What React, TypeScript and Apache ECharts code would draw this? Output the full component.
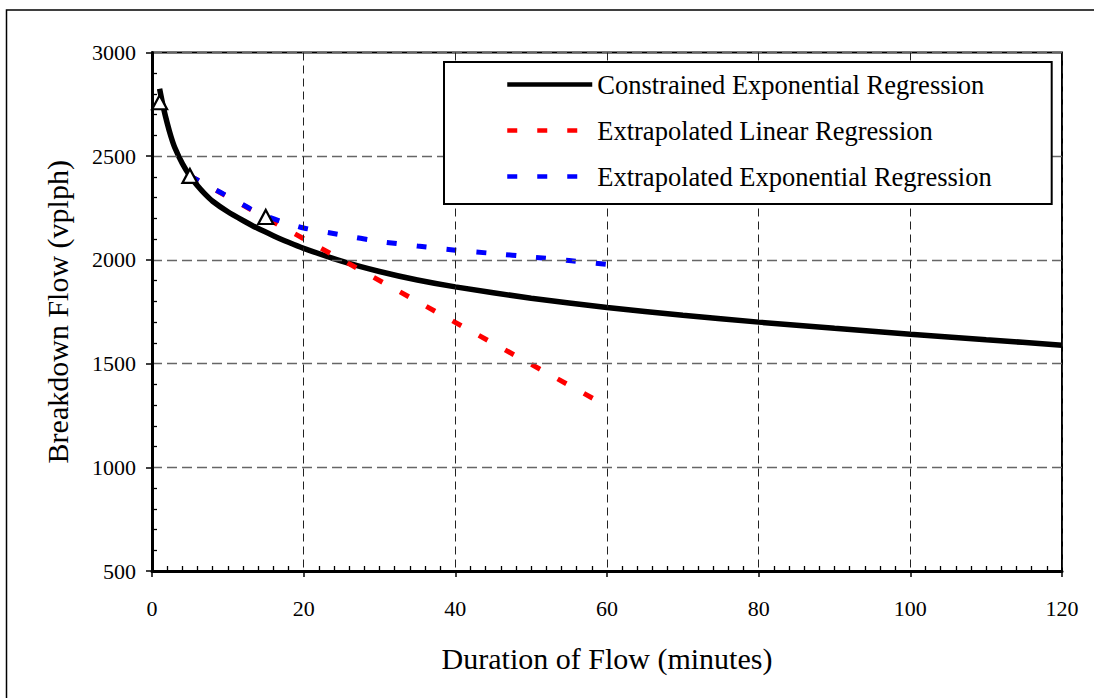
import React, { useEffect, useRef } from "react";
import * as echarts from "echarts";

const xTicks = [0, 20, 40, 60, 80, 100, 120];
const yTicks = [500, 1000, 1500, 2000, 2500, 3000];

const constrainedX = [1, 1.5, 2, 2.5, 3, 4, 5, 6, 7, 8, 10, 12, 14, 16, 18, 20, 25, 30, 35, 40, 50, 60, 70, 80, 90, 100, 110, 120];
const constrainedY = [2825, 2735, 2660, 2595, 2542, 2465, 2405, 2357, 2317, 2283, 2232, 2190, 2151, 2117, 2085, 2056, 1994, 1944, 1903, 1870, 1815, 1770, 1733, 1700, 1670, 1642, 1615, 1589];

const linearX = [5, 60];
const linearY = [2405, 1295];

const expX = [5, 7, 9, 11, 13, 15, 17, 20, 25, 30, 35, 40, 45, 50, 55, 60];
const expY = [2405, 2365, 2326, 2286, 2246, 2212, 2186, 2154, 2120, 2089, 2067, 2047, 2031, 2014, 1997, 1978];

const obsX = [1, 5, 15];
const obsY = [2760, 2405, 2207];

const seriesNames = [
  "Constrained Exponential Regression",
  "Extrapolated Linear Regression",
  "Extrapolated Exponential Regression",
];

const FONT = "'Liberation Serif', 'Times New Roman', serif";

const zip = (xs: number[], ys: number[]) => xs.map((x, i) => [x, ys[i]]);

export default function App() {
  const ref = useRef<HTMLDivElement>(null);
  useEffect(() => {
    if (!ref.current) return;
    const chart = echarts.init(ref.current, null, { renderer: "svg" });
    const xMin = xTicks[0];
    const xMax = xTicks[xTicks.length - 1];
    const yMin = yTicks[0];
    const yMax = yTicks[yTicks.length - 1];
    chart.setOption({
      animation: false,
      backgroundColor: "#fff",
      textStyle: { fontFamily: FONT },
      graphic: [
        {
          type: "rect",
          shape: { x: 6.5, y: 10, width: 1200, height: 1000 },
          style: { fill: "none", stroke: "#000", lineWidth: 1.5 },
          silent: true,
          z: -10,
        },
      ],
      grid: {
        left: 152,
        top: 52.5,
        right: 32,
        bottom: 127,
        show: true,
        borderColor: "#000",
        borderWidth: 2,
        backgroundColor: "transparent",
      },
      legend: {
        left: 444,
        top: 62,
        orient: "vertical",
        data: seriesNames,
        selectedMode: false,
        backgroundColor: "#fff",
        borderColor: "#000",
        borderWidth: 2,
        borderRadius: 0,
        padding: [9, 60, 14, 61],
        itemWidth: 85,
        itemHeight: 30,
        itemGap: 19,
        itemStyle: { opacity: 0 },
        lineStyle: { width: 4.5 },
        textStyle: { fontFamily: FONT, fontSize: 26.5, color: "#000" },
        z: 10,
      },
      xAxis: [
        {
          type: "value",
          min: xMin,
          max: xMax,
          interval: 20,
          name: "Duration of Flow (minutes)",
          nameLocation: "middle",
          nameGap: 72,
          nameTextStyle: { fontFamily: FONT, fontSize: 30, color: "#000" },
          axisLine: { show: true, onZero: false, lineStyle: { color: "#000", width: 3 } },
          axisTick: { show: true, inside: false, length: 6, lineStyle: { color: "#000", width: 1.5 } },
          minorTick: { show: false },
          axisLabel: { fontFamily: FONT, fontSize: 22, color: "#000", margin: 26, formatter: (v: number) => String(v) },
          splitLine: { show: true, lineStyle: { color: "#222", width: 1, type: [8, 5] } },
          z: 6,
        },
        {
          type: "value",
          min: xMin,
          max: xMax,
          interval: 20,
          position: "bottom",
          axisLine: { show: false, onZero: false },
          axisTick: { show: true, inside: true, length: 0.01, lineStyle: { color: "#000", width: 0.01 } },
          minorTick: { show: true, splitNumber: 10, length: 5, lineStyle: { color: "#000", width: 1.3 } },
          axisLabel: { show: false },
          splitLine: { show: false },
          z: 6,
        },
      ],
      yAxis: [
        {
          type: "value",
          min: yMin,
          max: yMax,
          interval: 500,
          name: "Breakdown Flow (vplph)",
          nameLocation: "middle",
          nameGap: 80,
          nameTextStyle: { fontFamily: FONT, fontSize: 30, color: "#000" },
          axisLine: { show: true, onZero: false, lineStyle: { color: "#000", width: 3 } },
          axisTick: { show: true, inside: false, length: 6, lineStyle: { color: "#000", width: 1.5 } },
          minorTick: { show: false },
          axisLabel: { fontFamily: FONT, fontSize: 22, color: "#000", margin: 16, formatter: (v: number) => String(v) },
          splitLine: { show: true, lineStyle: { color: "#666", width: 1.3, type: [10, 5] } },
          z: 6,
        },
        {
          type: "value",
          min: yMin,
          max: yMax,
          interval: 500,
          position: "left",
          axisLine: { show: false, onZero: false },
          axisTick: { show: true, inside: true, length: 0.01, lineStyle: { color: "#000", width: 0.01 } },
          minorTick: { show: true, splitNumber: 5, length: 5, lineStyle: { color: "#000", width: 1.3 } },
          axisLabel: { show: false },
          splitLine: { show: false },
          z: 6,
        },
      ],
      series: [
        {
          name: seriesNames[0],
          type: "line",
          data: zip(constrainedX, constrainedY),
          symbol: "none",
          smooth: 0.2,
          lineStyle: { color: "#000", width: 5.5 },
          itemStyle: { color: "#000" },
          z: 2,
        },
        {
          name: seriesNames[1],
          type: "line",
          data: zip(linearX, linearY),
          symbol: "none",
          lineStyle: { color: "#ff0000", width: 5, type: [10, 20], cap: "butt" },
          itemStyle: { color: "#ff0000" },
          z: 3,
        },
        {
          name: seriesNames[2],
          type: "line",
          data: zip(expX, expY),
          symbol: "none",
          smooth: 0.2,
          lineStyle: { color: "#0000ff", width: 5, type: [10, 20], cap: "butt" },
          itemStyle: { color: "#0000ff" },
          z: 4,
        },
        {
          name: "Observed",
          type: "scatter",
          data: zip(obsX, obsY),
          symbol: "triangle",
          symbolSize: [15, 14],
          itemStyle: { color: "#fff", borderColor: "#000", borderWidth: 2.2, opacity: 1 },
          z: 5,
        },
      ],
    });
    return () => chart.dispose();
  }, []);
  return (
    <div
      ref={ref}
      style={{ position: "fixed", left: 0, top: 0, width: 1094, height: 698 }}
    />
  );
}
